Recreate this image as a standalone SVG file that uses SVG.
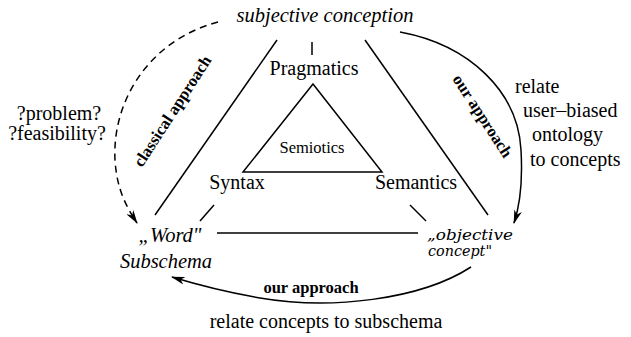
<svg xmlns="http://www.w3.org/2000/svg" width="631" height="337" viewBox="0 0 631 337">
  <style>
    text { font-family: "Liberation Serif", "Times New Roman", serif; fill: #000; }
    .lbl { font-size: 20px; }
    .ital { font-size: 20.5px; font-style: italic; }
    .obj { font-family: "DejaVu Serif", "Liberation Serif", serif; font-size: 14px; font-style: italic; }
    .bold { font-size: 16.5px; font-weight: bold; }
    .small { font-size: 16.5px; }
    .ln { stroke: #000; stroke-width: 1.5; fill: none; }
    .arc { stroke: #000; stroke-width: 1.5; fill: none; }
    .dash { stroke-dasharray: 7 5; }
  </style>
  <defs>
    <marker id="arrow" viewBox="0 0 14 8" refX="13" refY="4" markerWidth="14" markerHeight="8" markerUnits="userSpaceOnUse" orient="auto">
      <path d="M0,0 L14,4 L0,8 L4,4 Z" fill="#000"/>
    </marker>
  </defs>

  <!-- connectors -->
  <g id="connectors">
    <!-- outer triangle sides -->
    <line class="ln" x1="155" y1="215" x2="277" y2="40"/>
    <line class="ln" x1="365" y1="40" x2="488" y2="215"/>
    <line class="ln" x1="217" y1="233" x2="418" y2="233"/>
    <!-- leaders to the corner labels -->
    <line class="ln" x1="312" y1="42" x2="312" y2="55"/>
    <line class="ln" x1="214" y1="205" x2="200" y2="221"/>
    <line class="ln" x1="410" y1="205" x2="426" y2="221"/>
    <!-- approach arcs -->
    <path class="arc dash" d="M218,22 C150,40 112,100 115,160 C117,190 126,206 137,223" marker-end="url(#arrow)"/>
    <path class="arc" d="M400,32 C470,45 518,92 521,150 C523,185 520,205 514,223" marker-end="url(#arrow)"/>
    <path class="arc" d="M471,267 C420,300 330,310 260,298 C220,291 195,284 172,277" marker-end="url(#arrow)"/>
  </g>

  <!-- inner semiotics triangle -->
  <g id="semiotics">
    <polygon points="313,84 243,172 382,172" fill="none" stroke="#000" stroke-width="1.5"/>
    <text class="small" x="312" y="153" text-anchor="middle">Semiotics</text>
  </g>

  <g id="pragmatics">
    <text class="lbl" x="314" y="75" text-anchor="middle">Pragmatics</text>
  </g>
  <g id="syntax">
    <text class="lbl" x="237" y="189" text-anchor="middle">Syntax</text>
  </g>
  <g id="semantics">
    <text class="lbl" x="416" y="189" text-anchor="middle">Semantics</text>
  </g>

  <g id="subjective-conception">
    <text class="ital" x="325" y="22" text-anchor="middle">subjective conception</text>
  </g>
  <g id="word-subschema">
    <text class="ital" x="170" y="242" text-anchor="middle">„Word"</text>
    <text class="ital" x="166" y="268" text-anchor="middle">Subschema</text>
  </g>
  <g id="objective-concept">
    <text class="obj" x="427" y="240" textLength="86" lengthAdjust="spacingAndGlyphs">„objective</text>
    <text class="obj" x="428" y="256" textLength="64" lengthAdjust="spacingAndGlyphs">concept"</text>
  </g>

  <!-- side notes -->
  <g id="left-note">
    <text class="lbl" x="59" y="120" text-anchor="middle">?problem?</text>
    <text class="lbl" x="57" y="140" text-anchor="middle">?feasibility?</text>
  </g>
  <g id="right-note">
    <text class="lbl" x="515" y="93">relate</text>
    <text class="lbl" x="523" y="117">user–biased</text>
    <text class="lbl" x="532" y="141">ontology</text>
    <text class="lbl" x="530" y="166">to concepts</text>
  </g>
  <g id="bottom-note">
    <text class="lbl" x="326" y="328" text-anchor="middle">relate concepts to subschema</text>
  </g>

  <!-- arc labels -->
  <g id="arc-labels">
    <text class="bold" x="177" y="114" text-anchor="middle" transform="rotate(-57 177 114)">classical approach</text>
    <text class="bold" x="478" y="119" text-anchor="middle" transform="rotate(57 478 119)">our approach</text>
    <text class="bold" x="311" y="293" text-anchor="middle">our approach</text>
  </g>
</svg>
